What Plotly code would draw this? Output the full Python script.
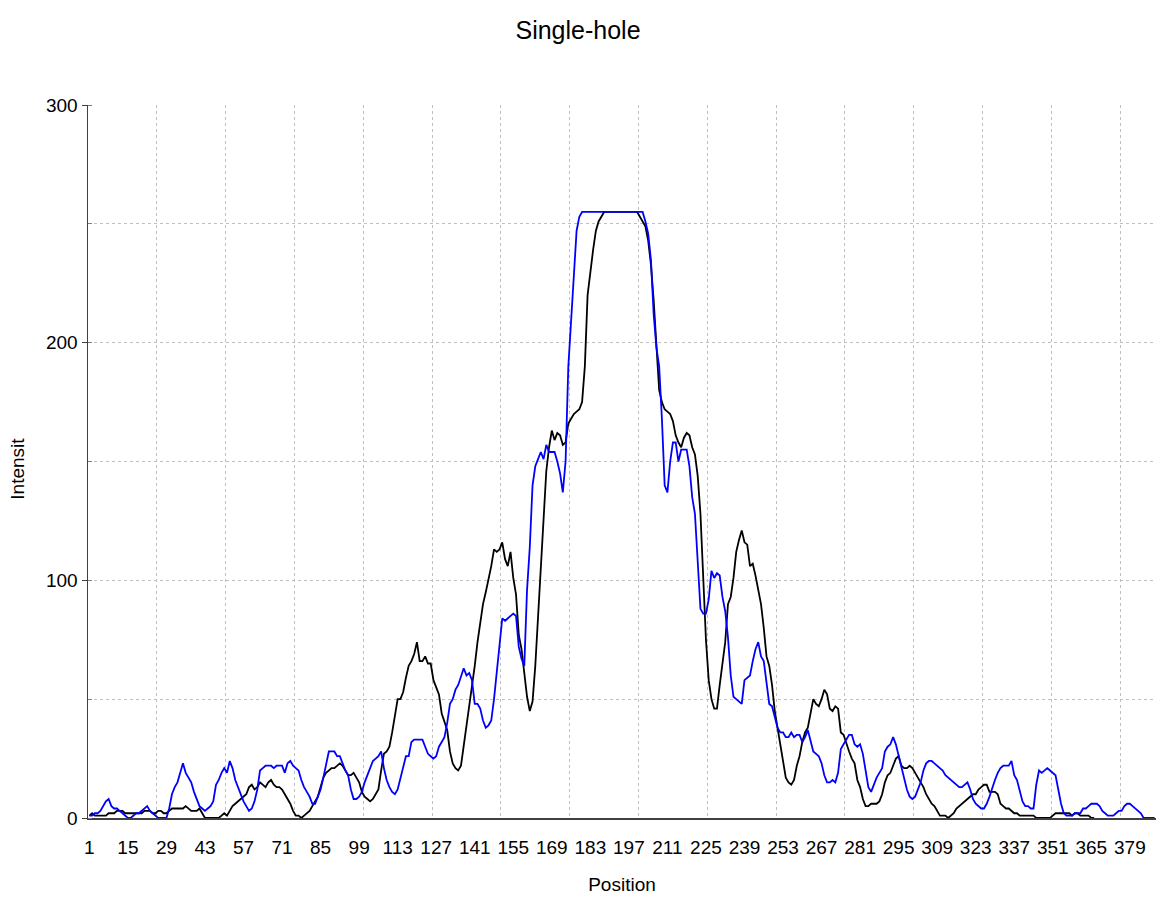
import plotly.graph_objects as go

# ---- data ----
POSITIONS = list(range(1, 389))

SERIES_BLACK = [
    1, 2, 1, 1, 1, 1, 1, 2, 2, 2,
    3, 3, 3, 2, 2, 2, 2, 2, 2, 2,
    3, 3, 3, 2, 2, 3, 3, 2, 2, 3,
    4, 4, 4, 4, 4, 5, 4, 3, 3, 3,
    4, 2, 0, 0, 0, 0, 0, 0, 1, 2,
    1, 3, 5, 6, 7, 8, 9, 10, 13, 14,
    12, 13, 15, 14, 13, 15, 16, 14, 13, 13,
    12, 10, 8, 6, 3, 1, 1, 0, 1, 2,
    3, 5, 7, 9, 13, 17, 19, 20, 21, 21,
    22, 23, 22, 20, 18, 18, 19, 17, 15, 11,
    9, 8, 7, 8, 10, 12, 20, 27, 28, 30,
    36, 44, 50, 50, 53, 59, 64, 66, 69, 74,
    66, 66, 68, 65, 65, 58, 55, 52, 44, 40,
    37, 28, 23, 21, 20, 22, 30, 38, 47, 56,
    64, 74, 83, 90, 95, 100, 106, 113, 112, 113,
    116, 109, 106, 112, 101, 94, 77, 71, 62, 51,
    45, 49, 64, 85, 108, 130, 146, 156, 163, 159,
    162, 161, 157, 158, 166, 168, 170, 171, 172, 175,
    190, 220, 230, 239, 247, 251, 253, 255, 255, 255,
    255, 255, 255, 255, 255, 255, 255, 255, 255, 255,
    253, 251, 249, 243, 233, 218, 197, 180, 175, 172,
    171, 170, 167, 161, 158, 156, 160, 162, 161, 156,
    153, 144, 128, 100, 75, 58, 50, 46, 46, 56,
    64, 74, 90, 93, 101, 112, 117, 121, 116, 115,
    106, 107, 102, 96, 90, 80, 68, 64, 56, 45,
    38, 31, 25, 17, 15, 14, 16, 22, 26, 32,
    36, 38, 44, 50, 48, 47, 50, 54, 52, 46,
    45, 47, 46, 36, 35, 31, 28, 25, 23, 16,
    13, 8, 5, 5, 6, 6, 6, 7, 10, 15,
    18, 19, 22, 25, 26, 22, 21, 21, 22, 21,
    19, 17, 15, 13, 10, 8, 6, 5, 3, 1,
    1, 1, 0, 1, 2, 4, 5, 6, 7, 8,
    9, 10, 10, 12, 13, 14, 14, 11, 11, 11,
    10, 6, 5, 4, 4, 3, 2, 2, 1, 1,
    1, 1, 1, 1, 0, 0, 0, 0, 0, 0,
    1, 2, 2, 2, 2, 2, 2, 1, 2, 2,
    1, 1, 1, 1, 0, 0,
] + [None] * 22

SERIES_BLUE = [
    1, 1, 2, 2, 3, 5, 7, 8, 5, 4,
    4, 3, 2, 1, 0, 0, 1, 2, 2, 3,
    4, 5, 3, 2, 1, 0, 0, 0, 0, 4,
    10, 13, 15, 19, 23, 19, 17, 15, 11, 8,
    5, 4, 3, 4, 5, 7, 14, 16, 19, 21,
    19, 24, 21, 16, 13, 10, 7, 5, 3, 4,
    7, 12, 20, 21, 22, 22, 22, 21, 22, 22,
    22, 19, 23, 24, 22, 21, 20, 16, 13, 11,
    9, 6, 6, 9, 12, 17, 22, 28, 28, 28,
    26, 26, 23, 20, 18, 12, 8, 8, 9, 11,
    15, 18, 21, 24, 25, 26, 28, 21, 16, 13,
    11, 10, 12, 17, 22, 26, 26, 32, 33, 33,
    33, 33, 30, 27, 26, 25, 26, 30, 32, 34,
    40, 48, 50, 54, 56, 60, 63, 60, 61, 58,
    48, 48, 46, 41, 38, 39, 41, 50, 62, 72,
    84, 83, 84, 85, 86, 85, 72, 67, 64, 96,
    114, 140, 148, 151, 154, 151, 157, 154, 154, 154,
    150, 145, 137, 150, 190, 208, 225, 247, 253, 255,
    255, 255, 255, 255, 255, 255, 255, 255, 255, 255,
    255, 255, 255, 255, 255, 255, 255, 255, 255, 255,
    255, 255, 251, 246, 235, 212, 198, 190, 168, 140,
    137, 150, 158, 158, 150, 155, 155, 155, 148, 135,
    128, 108, 88, 86, 86, 92, 104, 101, 103, 102,
    93, 87, 76, 60, 51, 50, 49, 48, 58, 59,
    60, 66, 71, 74, 68, 66, 56, 48, 47, 43,
    38, 36, 36, 34, 34, 36, 34, 35, 35, 32,
    34, 37, 32, 28, 27, 26, 23, 18, 15, 15,
    16, 15, 19, 29, 31, 33, 35, 35, 31, 30,
    31, 27, 19, 13, 11, 14, 17, 19, 21, 28,
    30, 31, 34, 31, 26, 22, 17, 12, 9, 8,
    9, 12, 15, 20, 23, 24, 24, 23, 22, 21,
    20, 18, 17, 16, 15, 14, 13, 13, 14, 15,
    12, 8, 6, 5, 4, 4, 6, 9, 13, 16,
    19, 21, 22, 22, 22, 24, 18, 16, 11, 7,
    5, 5, 4, 4, 14, 20, 19, 20, 21, 20,
    19, 18, 12, 6, 2, 1, 1, 1, 2, 2,
    2, 4, 4, 5, 6, 6, 6, 5, 3, 2,
    1, 1, 1, 2, 3, 3, 5, 6, 6, 5,
    4, 3, 2, 0, 0, 0, 0, 0,
]

X_TICK_LABELS = [str(v) for v in range(1, 380, 14)]
Y_TICKS = [0, 100, 200, 300]

TITLE = "Single-hole"
X_TITLE = "Position"
Y_TITLE = "Intensit"

# ---- figure ----
FONT = "Liberation Sans Narrow, Arial Narrow, Liberation Sans, Arial, sans-serif"
xr = [POSITIONS[0] - 0.5, POSITIONS[-1] + 0.5]
grid_vals = [xr[0] + 25 * k for k in range(1, 16)]
tick_marks = [xr[0] + 50 * k for k in range(0, 8)]

fig = go.Figure()
fig.add_trace(go.Scatter(x=POSITIONS, y=SERIES_BLACK, mode="lines", name="Series 1",
                         line=dict(color="#000000", width=1.8), connectgaps=False))
fig.add_trace(go.Scatter(x=POSITIONS, y=SERIES_BLUE, mode="lines", name="Series 2",
                         line=dict(color="#0000FF", width=1.8)))

fig.update_layout(
    width=1156, height=902,
    paper_bgcolor="white", plot_bgcolor="white",
    showlegend=False,
    margin=dict(l=88, r=0, t=105, b=84, autoexpand=False),
    font=dict(family=FONT, color="#000000", size=19),
    title=dict(text=TITLE, x=0.5, xref="container", xanchor="center", y=0.9667, yref="container",
               yanchor="middle", automargin=False,
               font=dict(family=FONT, size=25, color="#000000")),
    xaxis=dict(
        range=xr, tickmode="array", tickvals=[int(t) for t in X_TICK_LABELS], ticktext=X_TICK_LABELS,
        ticks="", showgrid=False, zeroline=False, showline=True, linecolor="#404040", linewidth=1.5,
        tickfont=dict(family=FONT, size=19), ticklabelstandoff=12, automargin=False,
        minor=dict(tickmode="array", tickvals=grid_vals, showgrid=True, gridcolor="#BFBFBF",
                   griddash="3px,3px", gridwidth=1, ticks=""),
        title=dict(text=X_TITLE, font=dict(family=FONT, size=19), standoff=20),
    ),
    xaxis2=dict(
        overlaying="x", side="top", anchor="y", range=xr, showline=True, linecolor="#8C8C8C",
        linewidth=1.2, showticklabels=False, ticks="", showgrid=False, zeroline=False,
        automargin=False,
    ),
    xaxis3=dict(
        overlaying="x", side="bottom", anchor="y", range=xr, tickmode="array", tickvals=tick_marks,
        ticks="outside", ticklen=6, tickwidth=1.2, tickcolor="#404040", showticklabels=False,
        showgrid=False, showline=False, zeroline=False, automargin=False,
    ),
    yaxis=dict(
        range=[0, 300], tickmode="array", tickvals=Y_TICKS, ticks="outside", ticklen=5,
        tickcolor="#404040", showline=True, linecolor="#404040", linewidth=1.5, zeroline=False,
        showgrid=True, gridcolor="#BFBFBF", griddash="3px,3px", gridwidth=1, automargin=False,
        tickfont=dict(family=FONT, size=19),
        minor=dict(dtick=50, tick0=0, showgrid=True, gridcolor="#BFBFBF", griddash="3px,3px",
                   ticks="inside", ticklen=4, tickcolor="#808080"),
    ),
    annotations=[dict(text=Y_TITLE, textangle=-90, xref="paper", yref="paper",
                      x=-0.0655, y=0.49, xanchor="center", yanchor="middle", showarrow=False,
                      font=dict(family=FONT, size=19, color="#000000"))],
)

fig.write_html(
    "out.html",
    config={"displayModeBar": False, "staticPlot": True},
    post_script="document.body.style.margin='0';document.body.style.padding='0';"
                "document.body.style.overflow='hidden';",
)
